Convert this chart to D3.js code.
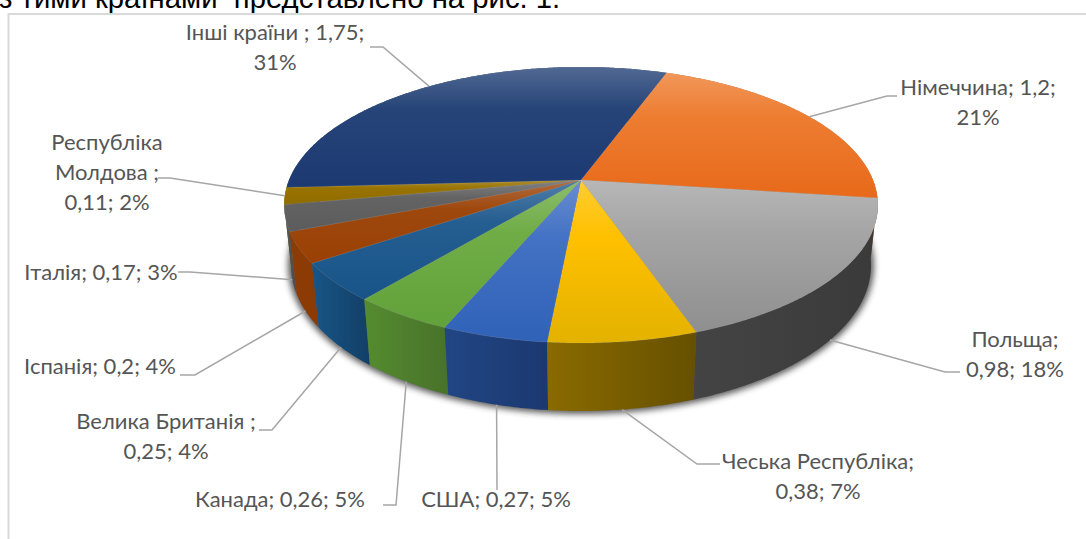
<!DOCTYPE html>
<html lang="uk">
<head>
<meta charset="UTF-8">
<title>Chart</title>
<style>
  html, body { margin: 0; padding: 0; background: #fff; overflow: hidden; }
  svg { display: block; }
  .lbl { font-family: Lato, "Open Sans", sans-serif; font-size: 22px; fill: #555; }
  .head { font-family: "Liberation Sans", Arial, sans-serif; font-size: 29.3px; fill: #000; }
</style>
<script src="https://cdn.jsdelivr.net/npm/d3@7"></script>
</head>
<body>
<div id="chart"></div>
<script>
const countries = ["Німеччина", "Польща", "Чеська Республіка", "США", "Канада", "Велика Британія", "Іспанія", "Італія", "Республіка Молдова", "Інші країни"]
const values = [1.2, 0.98, 0.38, 0.27, 0.26, 0.25, 0.2, 0.17, 0.11, 1.75]
const percents = [21, 18, 7, 5, 5, 4, 4, 3, 2, 31]

// colours: office palette, top of the slice / bottom of the slice / wall left / wall right
const baseColors = ["#ed7d31", "#a5a5a5", "#ffc000", "#4472c4", "#70ad47", "#255e91", "#9e480e", "#636363", "#997300", "#264478"]
const lowColors = ["#e8691a", "#8f8f8f", "#e3b200", "#2f62b8", "#62a23a", "#185488", "#9a4004", "#5c5c5c", "#8f6c00", "#1c3a72"]
const wallLeft = ["#b85a1c", "#444444", "#8a6a00", "#214684", "#558c2f", "#185586", "#8e3c05", "#5a5a5a", "#6c5200", "#1a3050"]
const wallRight = ["#a85016", "#3a3a3a", "#665000", "#1b3870", "#48722a", "#123f66", "#8a3a04", "#4a4a4a", "#5c4500", "#1a3050"]

// label text placement, one entry per country: lines, text x / y of first line, elbow, side of the pie
const labelLines = [
  ["Німеччина; 1,2;", "21%"],
  ["Польща;", "0,98; 18%"],
  ["Чеська Республіка;", "0,38; 7%"],
  ["США; 0,27; 5%"],
  ["Канада; 0,26; 5%"],
  ["Велика Британія ;", "0,25; 4%"],
  ["Іспанія; 0,2; 4%"],
  ["Італія; 0,17; 3%"],
  ["Республіка", "Молдова ;", "0,11; 2%"],
  ["Інші країни ; 1,75;", "31%"]
]
const labelX = [978, 1015, 818, 496, 280, 166, 100, 101, 107, 275]
const labelY = [87, 339, 461, 499, 499, 421, 366, 272, 142, 32]
const elbows = [[[887, 96], [897, 96]], [[945, 372], [960, 372]], [[697, 464], [720, 464]], [[497, 490]], [[396, 505], [383, 505]],
  [[272, 430], [259, 430]], [[195, 375], [180, 375]], [[190, 272], [178, 272]], [[170, 178], [158, 178]], [[383, 47], [370, 47]]]
const onBottom = [0, 1, 1, 1, 1, 1, 1, 1, 0, 0]

const w = 1086
const h = 539
const lineGap = 30

const svg = d3.select("#chart").append("svg").attr("width", w).attr("height", h)
const defs = svg.append("defs")

// tilted disc: perspective projection of the unit circle
const xScale = d3.scaleLinear().domain([-1, 1]).range([581 - 292, 581 + 292])
const yScale = d3.scaleLinear().domain([-1, 1]).range([180 - 133.5, 180 + 133.5])
const persp = 0.181
const deepen = 0.023
const depth = 0.457

function project (angle, z) {
  const u = Math.sin(angle)
  const v = -Math.cos(angle)
  const k = 1 - persp * v + deepen * z
  return [xScale(u / k), yScale((v + depth * z) / k)]
}

function arcPoints (a0, a1, z) {
  const n = Math.max(2, Math.ceil((a1 - a0) / 0.01))
  return d3.range(n + 1).map(i => project(a0 + (a1 - a0) * i / n, z))
}

const rad = Math.PI / 180
const pie = d3.pie().sort(null).startAngle(20 * rad).endAngle(380 * rad)
const slices = pie(values)
const line = d3.line()

defs.append("filter").attr("id", "soft")
  .attr("x", "-10%").attr("y", "-10%").attr("width", "120%").attr("height", "120%")
  .append("feGaussianBlur").attr("stdDeviation", 3)

slices.forEach((d, i) => {
  const top = defs.append("linearGradient").attr("id", "top" + i)
    .attr("x1", 0).attr("y1", 0).attr("x2", 0).attr("y2", 1)
  top.append("stop").attr("offset", 0).attr("stop-color", d3.interpolateRgb(baseColors[i], "#fff")(0.2))
  top.append("stop").attr("offset", 0.35).attr("stop-color", baseColors[i])
  top.append("stop").attr("offset", 1).attr("stop-color", lowColors[i])

  const wall = defs.append("linearGradient").attr("id", "wall" + i)
    .attr("x1", 0).attr("y1", 0).attr("x2", 1).attr("y2", 0)
  wall.append("stop").attr("offset", 0).attr("stop-color", wallLeft[i])
  wall.append("stop").attr("offset", 1).attr("stop-color", wallRight[i])
})

// frame of the chart and the line of document text above it
svg.append("text").attr("class", "head").attr("x", -1).attr("y", 8)
  .attr("xml:space", "preserve").style("white-space", "pre")
  .text("з тими країнами  представлено на рис. 1.")
svg.append("path").attr("d", line([[8.5, h], [8.5, 14], [w, 14]]))
  .attr("fill", "none").attr("stroke", "#d9d9d9").attr("stroke-width", 2)

// shadow under the pie
svg.append("path")
  .attr("d", line(arcPoints(0, 2 * Math.PI, 1)) + "Z")
  .attr("fill", "#333").attr("stroke", "#333").attr("stroke-width", 6)
  .attr("opacity", 0.8).attr("filter", "url(#soft)")

// walls, farthest first
const walls = slices.map((d, i) => ({ d, i, mid: -Math.cos((d.startAngle + d.endAngle) / 2) }))
  .sort((a, b) => a.mid - b.mid)
svg.append("g").selectAll("path").data(walls).join("path")
  .attr("d", s => line(arcPoints(s.d.startAngle, s.d.endAngle, 0)
    .concat(arcPoints(s.d.startAngle, s.d.endAngle, 1).reverse())) + "Z")
  .attr("fill", s => `url(#wall${s.i})`)

// top faces
svg.append("g").selectAll("path").data(slices).join("path")
  .attr("d", d => line([[xScale(0), yScale(0)]].concat(arcPoints(d.startAngle, d.endAngle, 0))) + "Z")
  .attr("fill", (d, i) => `url(#top${i})`)
  .attr("stroke", "#fff").attr("stroke-opacity", 0.12).attr("stroke-width", 0.7)

// leader lines
svg.append("g").selectAll("path").data(slices).join("path")
  .attr("d", (d, i) => line([project((d.startAngle + d.endAngle) / 2, onBottom[i])].concat(elbows[i])))
  .attr("fill", "none").attr("stroke", "#a6a6a6").attr("stroke-width", 1.5)

// labels
labelLines.forEach((lines, i) => {
  const t = svg.append("text").attr("class", "lbl").attr("text-anchor", "middle")
  lines.forEach((s, j) => {
    t.append("tspan").attr("x", labelX[i]).attr("y", labelY[i] + j * lineGap).attr("dy", "0.35em").text(s)
  })
})
</script>
</body>
</html>
